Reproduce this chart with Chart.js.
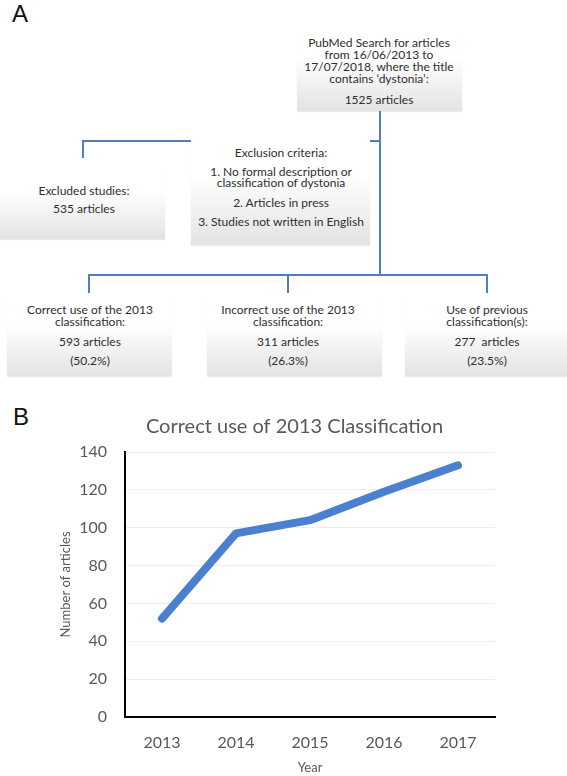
<!DOCTYPE html>
<html>
<head>
<meta charset="utf-8">
<script src="https://cdn.jsdelivr.net/npm/chart.js@4.4.0/dist/chart.umd.min.js"></script>
<style>
  body { margin: 0; background: #fff; }
  #page { position: relative; width: 567px; height: 776px; overflow: hidden; font-family: Lato, "Open Sans", sans-serif; }
  .panel { position: absolute; font-family: "Liberation Sans", Arial, sans-serif; font-size: 24px; line-height: 24px; color: #111; }
  .box { position: absolute; background: linear-gradient(to bottom, #fff 0%, #fff 35%, #e3e3e3 100%); box-shadow: 0 1px 1px rgba(0,0,0,0.08); z-index: 2; }
  .ln { position: absolute; background: #4f7fbf; z-index: 1; }
  .txt { position: absolute; width: 240px; text-align: center; font-size: 12px; line-height: 14px; color: #2e2e2e; white-space: pre; z-index: 3; }
  #chartB { position: absolute; left: 0; top: 395px; }
</style>
</head>
<body>
<div id="page">
  <div class="panel" style="left:12px; top:2px;">A</div>
  <div class="panel" style="left:13px; top:405px;">B</div>
  <canvas id="chartB" width="567" height="381"></canvas>
</div>
<script>
// Panel B data
const years = ['2013', '2014', '2015', '2016', '2017'];
const correctUse = [52, 97, 104, 119, 133];
const yMin = 0;
const yMax = 140;
const yStep = 20;
const chartTitle = 'Correct use of 2013 Classification';
const xTitle = 'Year';
const yTitle = 'Number of articles';

// Panel A flowchart
const page = document.getElementById('page');

function addBox(x, y, w, h) {
    const d = document.createElement('div');
    d.className = 'box';
    d.style.cssText = `left:${x}px;top:${y}px;width:${w}px;height:${h}px;`;
    page.appendChild(d);
}

function addLine(x, y, w, h) {
    const d = document.createElement('div');
    d.className = 'ln';
    d.style.cssText = `left:${x}px;top:${y}px;width:${w}px;height:${h}px;`;
    page.appendChild(d);
}

// text lines centred on cx, each at its own centre y
function addText(cx, lines, ys) {
    lines.forEach((t, i) => {
        const d = document.createElement('div');
        d.className = 'txt';
        d.textContent = t;
        d.style.left = (cx - 120) + 'px';
        d.style.top = (ys[i] - 7) + 'px';
        page.appendChild(d);
    });
}

// connectors
addLine(379, 110, 2, 166);   // main trunk
addLine(82, 140, 299, 2);    // top branch
addLine(82, 140, 2, 18);     // drop to excluded
addLine(88, 274, 400, 2);    // bottom branch
addLine(88, 274, 2, 19);
addLine(287, 274, 2, 19);
addLine(486, 274, 2, 19);

// boxes
addBox(297, 30, 165, 81);
addBox(0, 165, 165, 74);
addBox(191, 137, 179, 108);
addBox(7, 298, 165, 78);
addBox(207, 298, 175, 78);
addBox(405, 298, 162, 78);

addText(379, ['PubMed Search for articles', 'from 16/06/2013 to', '17/07/2018, where the title', 'contains \u2018dystonia\u2019:', '1525 articles'],
    [42.5, 54.8, 67.1, 79.4, 100]);
addText(84, ['Excluded studies:', '535 articles'], [191, 209]);
addText(281, ['Exclusion criteria:', '1. No formal description or', 'classification of dystonia', '2. Articles in press', '3. Studies not written in English'],
    [153, 171.7, 183.3, 202.7, 221.7]);
addText(90, ['Correct use of the 2013', 'classification:', '593 articles', '(50.2%)'], [309.5, 321.8, 342, 360.5]);
addText(288, ['Incorrect use of the 2013', 'classification:', '311 articles', '(26.3%)'], [309.5, 321.8, 342, 360.5]);
addText(487, ['Use of previous', 'classification(s):', '277  articles', '(23.5%)'], [309.5, 321.8, 342, 360.5]);

// Panel B chart
const FONT = 'Lato, "Open Sans", sans-serif';
const grey = '#595959';

// the Excel title sits a little right of the canvas centre
const titleShift = {
    id: 'titleShift',
    afterLayout(chart) {
        if (chart.titleBlock) chart.titleBlock.left = 94;
    }
};

new Chart(document.getElementById('chartB'), {
    type: 'line',
    data: {
        labels: years,
        datasets: [{
            data: correctUse,
            borderColor: '#4b7fd0',
            borderWidth: 8,
            borderCapStyle: 'round',
            borderJoinStyle: 'round',
            pointRadius: 0,
            tension: 0,
            fill: false
        }]
    },
    options: {
        responsive: false,
        animation: false,
        devicePixelRatio: 1,
        layout: { padding: { left: 58, right: 72, top: 0, bottom: 0 } },
        plugins: {
            legend: { display: false },
            tooltip: { enabled: false },
            title: {
                display: true,
                text: chartTitle,
                color: grey,
                font: { family: FONT, size: 20, weight: 'normal' },
                padding: { top: 20, bottom: 13 }
            }
        },
        scales: {
            x: {
                offset: true,
                grid: { display: false, drawTicks: false },
                border: { color: '#000', width: 2 },
                ticks: { color: grey, font: { family: FONT, size: 16 }, padding: 16 },
                title: { display: true, text: xTitle, color: grey, font: { family: FONT, size: 13 }, padding: { top: 8, bottom: 0 } },
                afterFit: s => { s.height = 59; }
            },
            y: {
                min: yMin,
                max: yMax,
                grid: { color: '#ededed', drawTicks: false },
                border: { color: '#000', width: 2 },
                ticks: { stepSize: yStep, color: grey, font: { family: FONT, size: 16 }, padding: 18 },
                title: { display: true, text: yTitle, color: grey, font: { family: FONT, size: 13 }, padding: { top: 0, bottom: 0 } },
                afterFit: s => { s.width = 67; }
            }
        }
    },
    plugins: [titleShift]
});
</script>
</body>
</html>
